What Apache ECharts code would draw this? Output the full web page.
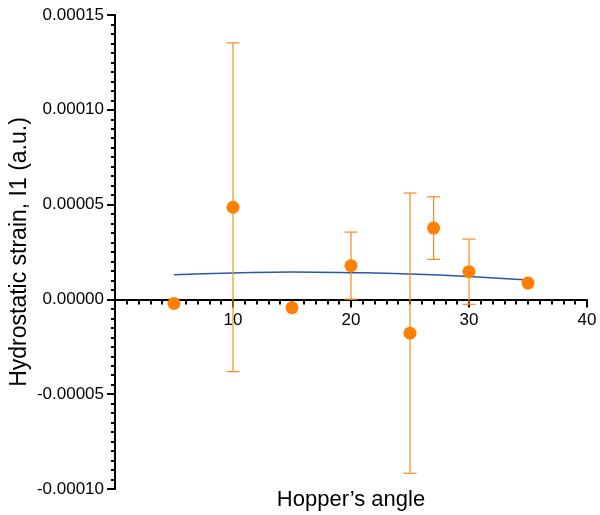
<!DOCTYPE html>
<html>
<head>
<meta charset="utf-8">
<script src="https://cdn.jsdelivr.net/npm/echarts@6/dist/echarts.min.js"></script>
<style>html,body{margin:0;padding:0;background:#fff}#c{width:600px;height:515px}</style>
</head>
<body>
<div id="c"></div>
<script>
const angles = [5, 10, 15, 20, 25, 27, 30, 35];
const strain = [-2.1e-6, 4.86e-5, -4.4e-6, 1.78e-5, -1.78e-5, 3.76e-5, 1.46e-5, 8.6e-6];
const errors = [0, 8.67e-5, 0, 1.77e-5, 7.39e-5, 1.65e-5, 1.72e-5, 0];
const fitX = [5, 10, 15, 20, 25, 30, 35];
const fitY = [1.30e-5, 1.39e-5, 1.44e-5, 1.41e-5, 1.34e-5, 1.21e-5, 1.02e-5];
const xTicks = [10, 20, 30, 40];

const FONT = '"Liberation Sans", Arial, sans-serif';
const chart = echarts.init(document.getElementById('c'));
const pts = angles.map((a, i) => [a, strain[i]]);
const errData = angles.map((a, i) => [a, strain[i] - errors[i], strain[i] + errors[i], errors[i]]);
const fitData = fitX.map((x, i) => [x, fitY[i]]);

const gridTop = 15, gridBottom = 26, H = 515;
const yMin = -0.0001, yMax = 0.00015;
const plotH = H - gridTop - gridBottom;
const zeroOffset = -plotH * (0 - yMin) / (yMax - yMin);

chart.setOption({
  animation: false,
  grid: {left: 115, right: 13, top: gridTop, bottom: gridBottom, containLabel: false, outerBoundsMode: 'none'},
  xAxis: {
    type: 'value', min: 0, max: 40, interval: 10, offset: zeroOffset,
    name: 'Hopper\u2019s angle', nameLocation: 'middle', nameGap: 190, nameMoveOverlap: false,
    nameTextStyle: {fontFamily: FONT, fontSize: 22, color: '#000'},
    axisLine: {onZero: false, lineStyle: {color: '#000', width: 2}},
    axisTick: {show: true, length: 8, lineStyle: {color: '#000', width: 2}},
    minorTick: {show: true, splitNumber: 10, length: 5, lineStyle: {color: '#000', width: 2}},
    axisLabel: {fontFamily: FONT, fontSize: 17, color: '#000', margin: 12,
      formatter: v => xTicks.indexOf(v) >= 0 ? String(v) : ''},
    splitLine: {show: false}
  },
  yAxis: {
    type: 'value', min: yMin, max: yMax, interval: 0.00005,
    name: 'Hydrostatic strain, I1 (a.u.)', nameLocation: 'middle', nameGap: 84, nameMoveOverlap: false,
    nameTextStyle: {fontFamily: FONT, fontSize: 23, color: '#000'},
    axisLine: {show: true, lineStyle: {color: '#000', width: 2}},
    axisTick: {show: true, length: 8, lineStyle: {color: '#000', width: 2}},
    minorTick: {show: true, splitNumber: 10, length: 4, lineStyle: {color: '#000', width: 2}},
    axisLabel: {fontFamily: FONT, fontSize: 17, color: '#000', margin: 11,
      formatter: v => v.toFixed(5)},
    splitLine: {show: false}
  },
  series: [
    {
      type: 'line', data: fitData, smooth: true, showSymbol: false, symbol: 'none',
      lineStyle: {color: '#2b57a8', width: 1.5}, z: 2
    },
    {
      type: 'custom', z: 3,
      data: errData,
      renderItem: function (params, api) {
        if (api.value(3) === 0) return null;
        const x = api.value(0);
        const lo = api.coord([x, api.value(1)]);
        const hi = api.coord([x, api.value(2)]);
        const w = 6.5;
        const style = {stroke: '#f98a1c', lineWidth: 1.2};
        return {
          type: 'group',
          children: [
            {type: 'line', shape: {x1: lo[0], y1: lo[1], x2: hi[0], y2: hi[1]}, style: style},
            {type: 'line', shape: {x1: hi[0] - w, y1: hi[1], x2: hi[0] + w, y2: hi[1]}, style: style},
            {type: 'line', shape: {x1: lo[0] - w, y1: lo[1], x2: lo[0] + w, y2: lo[1]}, style: style}
          ]
        };
      }
    },
    {
      type: 'scatter', data: pts, symbol: 'circle', symbolSize: 13, z: 4,
      itemStyle: {color: '#ff8000', opacity: 1}
    }
  ]
});
</script>
</body>
</html>
